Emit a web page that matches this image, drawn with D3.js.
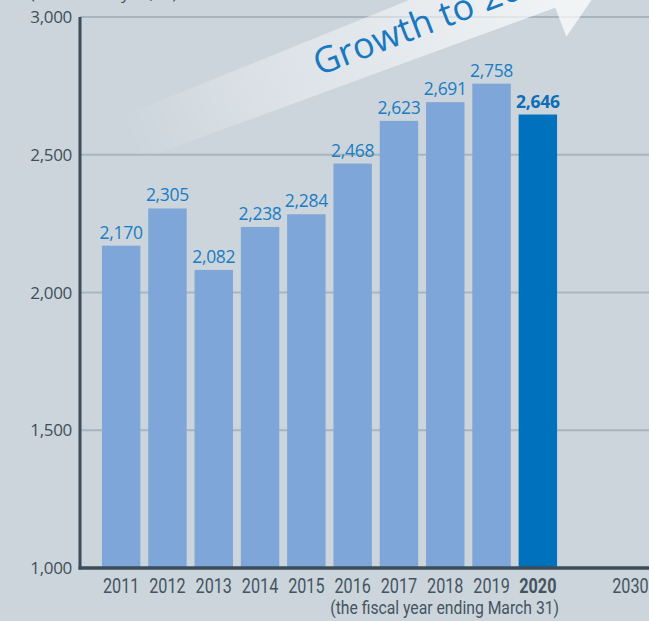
<!DOCTYPE html>
<html>
<head>
<meta charset="utf-8">
<script src="https://cdn.jsdelivr.net/npm/d3@7"></script>
<style>
  html, body { margin: 0; padding: 0; background: #ccd5dc; }
  svg { display: block; }
</style>
</head>
<body>
<script>
// Fiscal years with reported values, plus a future target slot
const years = ["2011", "2012", "2013", "2014", "2015", "2016", "2017", "2018", "2019", "2020"];
const values = [2170, 2305, 2082, 2238, 2284, 2468, 2623, 2691, 2758, 2646];
const slots = [...years, "", "2030"];          // empty slot spaces out the target year
const yTicks = [1000, 1500, 2000, 2500, 3000];
const highlightYear = "2020";
const unitLabel = "(Millions of yen, %)";
const footLabel = "(the fiscal year ending March 31)";
const arrowLabel = "Growth to 2030";

const W = 649, H = 621;
const axisX = 80, yTop = 17, yBottom = 568;

const svg = d3.select("body").append("svg")
  .attr("width", W).attr("height", H);

svg.append("rect").attr("width", W).attr("height", H).attr("fill", "#ccd5dc");

const x = d3.scaleBand().domain(slots).range([98, 653.6])
  .paddingInner(0.17).paddingOuter(0.085);
const y = d3.scaleLinear().domain([1000, 3000]).range([yBottom, yTop]);

const numFont = "'Open Sans', 'Noto Sans', sans-serif";
const narrowFont = "Roboto, 'Noto Sans', sans-serif";
const yearScale = 0.81;   // condensed look for the year labels
const footScale = 0.9;

// unit caption, mostly above the visible area
svg.append("text")
  .attr("x", 30).attr("y", -1)
  .attr("font-family", numFont).attr("font-size", 17)
  .attr("fill", "#3f4f5a")
  .text(unitLabel);

// horizontal gridlines
svg.append("g").selectAll("line")
  .data(yTicks.slice(1))
  .join("line")
  .attr("x1", axisX).attr("x2", W)
  .attr("y1", d => y(d)).attr("y2", d => y(d))
  .attr("stroke", "#a8b5bf").attr("stroke-width", 2);

// y tick labels
svg.append("g").selectAll("text")
  .data(yTicks)
  .join("text")
  .attr("x", axisX - 8).attr("y", d => y(d))
  .attr("dy", "0.36em")
  .attr("text-anchor", "end")
  .attr("font-family", numFont).attr("font-size", 17)
  .attr("letter-spacing", -0.3)
  .attr("fill", "#3f4f5a")
  .text(d => d3.format(",")(d));

// growth arrow, drawn in a rotated frame
const defs = svg.append("defs");
const grad = defs.append("linearGradient")
  .attr("id", "arrowFade")
  .attr("gradientUnits", "userSpaceOnUse")
  .attr("x1", -200).attr("y1", 0).attr("x2", 250).attr("y2", 0);
grad.append("stop").attr("offset", 0).attr("stop-color", "#ffffff").attr("stop-opacity", 0);
grad.append("stop").attr("offset", 0.3).attr("stop-color", "#ffffff").attr("stop-opacity", 0.28);
grad.append("stop").attr("offset", 1).attr("stop-color", "#ffffff").attr("stop-opacity", 0.72);

const arrowG = svg.append("g")
  .attr("transform", "translate(319,76) rotate(-21)");
const arrowShape = [
  [-200, -33], [245, -41], [245, -74], [335, -10],
  [245, 52], [245, 21], [-200, 14]
];
arrowG.append("path")
  .attr("d", d3.line()(arrowShape) + "Z")
  .attr("fill", "url(#arrowFade)");
arrowG.append("text")
  .attr("x", 0).attr("y", 0)
  .attr("font-family", numFont).attr("font-size", 36)
  .attr("fill", "#1878c0")
  .text(arrowLabel);

// bars
const data = years.map((yr, i) => ({ year: yr, value: values[i] }));
svg.append("g").selectAll("rect")
  .data(data)
  .join("rect")
  .attr("x", d => x(d.year))
  .attr("width", x.bandwidth())
  .attr("y", d => y(d.value))
  .attr("height", d => y(1000) - y(d.value))
  .attr("fill", d => d.year === highlightYear ? "#0071bc" : "#7ea6d8");

// value labels
svg.append("g").selectAll("text")
  .data(data)
  .join("text")
  .attr("x", d => x(d.year) + x.bandwidth() / 2)
  .attr("y", d => y(d.value) - 7)
  .attr("text-anchor", "middle")
  .attr("font-family", numFont).attr("font-size", 17.5)
  .attr("letter-spacing", -0.3)
  .attr("font-weight", d => d.year === highlightYear ? 700 : 400)
  .attr("fill", d => d.year === highlightYear ? "#0d6db7" : "#1a7cc4")
  .text(d => d3.format(",")(d.value));

// axes lines
svg.append("line")
  .attr("x1", axisX).attr("x2", axisX)
  .attr("y1", yTop).attr("y2", yBottom + 1.5)
  .attr("stroke", "#3b4d5a").attr("stroke-width", 3);
svg.append("line")
  .attr("x1", axisX - 1.5).attr("x2", W)
  .attr("y1", yBottom).attr("y2", yBottom)
  .attr("stroke", "#3b4d5a").attr("stroke-width", 3.5);

// x tick labels (horizontally condensed)
svg.append("g").selectAll("text")
  .data(slots.filter(s => s !== ""))
  .join("text")
  .attr("transform", d => `translate(${x(d) + x.bandwidth() / 2},593) scale(${yearScale},1)`)
  .attr("text-anchor", "middle")
  .attr("font-family", narrowFont).attr("font-size", 20)
  .attr("font-weight", d => d === highlightYear ? 700 : 400)
  .attr("fill", "#44545f")
  .text(d => d);

// footnote, right-aligned under the latest bar
svg.append("text")
  .attr("transform", `translate(${x(highlightYear) + x.bandwidth() + 2},614) scale(${footScale},1)`)
  .attr("text-anchor", "end")
  .attr("font-family", narrowFont).attr("font-size", 17.5)
  .attr("fill", "#44545f")
  .text(footLabel);
</script>
</body>
</html>
